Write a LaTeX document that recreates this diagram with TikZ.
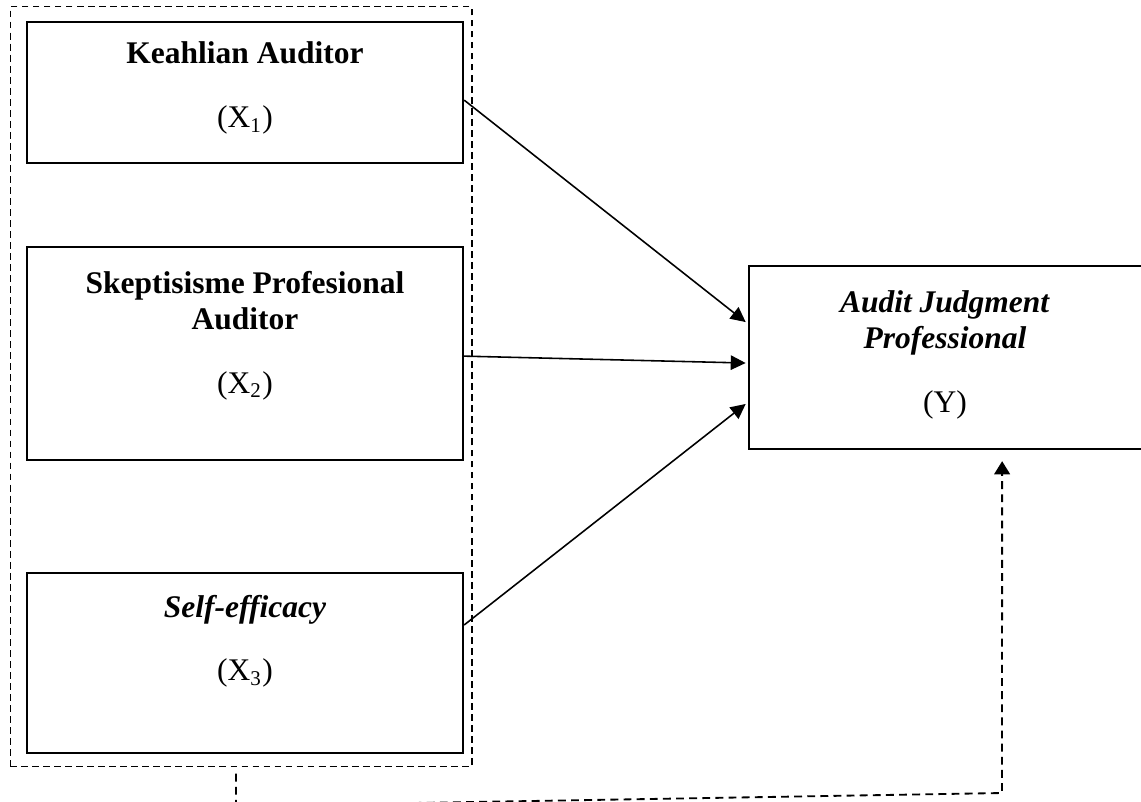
\documentclass[tikz,border=0pt]{standalone}
\usepackage{fontspec}
\setmainfont{Liberation Serif}
\usetikzlibrary{arrows.meta, positioning}

\tikzset{
  varbox/.style={draw, line width=0.9pt, inner sep=0pt, minimum width=166.1pt},
  grpbox/.style={draw, line width=0.4pt, dash pattern=on 2.6pt off 1.6pt, inner sep=0pt},
  arrow/.style={line width=0.6pt, -{Triangle[length=5.7pt,width=5.5pt]}},
  link/.style={line width=0.7pt, dash pattern=on 3pt off 2pt, -{Triangle[length=5pt,width=6pt]}},
  lbl/.style={anchor=base, font=\fontsize{12}{14}\selectfont}
}

\begin{document}
\begin{tikzpicture}[x=0.381pt, y=-0.381pt]
\useasboundingbox (0,0) rectangle (1141,801);
% Group of the independent variables
\node[grpbox, minimum width=176pt, minimum height=289.2pt] (grp) at (241,386.5) {};
% Independent variables
\node[varbox, minimum height=53.7pt] (kau) at (245,92.5) {};
\node[varbox, minimum height=81.2pt] (spa) at (245,353.5) {};
\node[varbox, minimum height=68.6pt] (sef) at (245,663) {};
% Dependent variable
\node[varbox, minimum width=150.9pt, minimum height=69.7pt] (ajp) at (947,357.5) {};

% Labels
\node[lbl] (kau-t) at (245,63.5) {\textbf{Keahlian Auditor}};
\node[lbl] (kau-v) at (245,127.5) {(X\textsubscript{1})};
\node[lbl] (spa-t) at (245,293) {\textbf{Skeptisisme Profesional}};
\node[lbl] (spa-u) at (245,329) {\textbf{Auditor}};
\node[lbl] (spa-v) at (245,393) {(X\textsubscript{2})};
\node[lbl] (sef-t) at (245,617.5) {\textbf{\textit{Self-efficacy}}};
\node[lbl] (sef-v) at (245,680.5) {(X\textsubscript{3})};
\node[lbl] (ajp-t) at (945,312.5) {\textbf{\textit{Audit Judgment}}};
\node[lbl] (ajp-u) at (945,348.5) {\textbf{\textit{Professional}}};
\node[lbl] (ajp-v) at (945,412.5) {(Y)};

% Partial effects
\draw[arrow] ([yshift=-2.9pt]kau.east) -- ([yshift=13.5pt, xshift=-0.8pt]ajp.west);
\draw[arrow] ([yshift=-1pt]spa.east) -- ([yshift=-2.1pt, xshift=-0.8pt]ajp.west);
\draw[arrow] ([yshift=14.5pt]sef.east) -- ([yshift=-17.7pt, xshift=-0.8pt]ajp.west);
% Simultaneous effect
\coordinate (bend1) at (236,806);
\coordinate (bend2) at (1002,793);
\draw[link] ([xshift=-1.9pt, yshift=-2.7pt]grp.south) -- (bend1) -- (bend2) -- ([xshift=21pt, yshift=-4.2pt]ajp.south);
\end{tikzpicture}
\end{document}
